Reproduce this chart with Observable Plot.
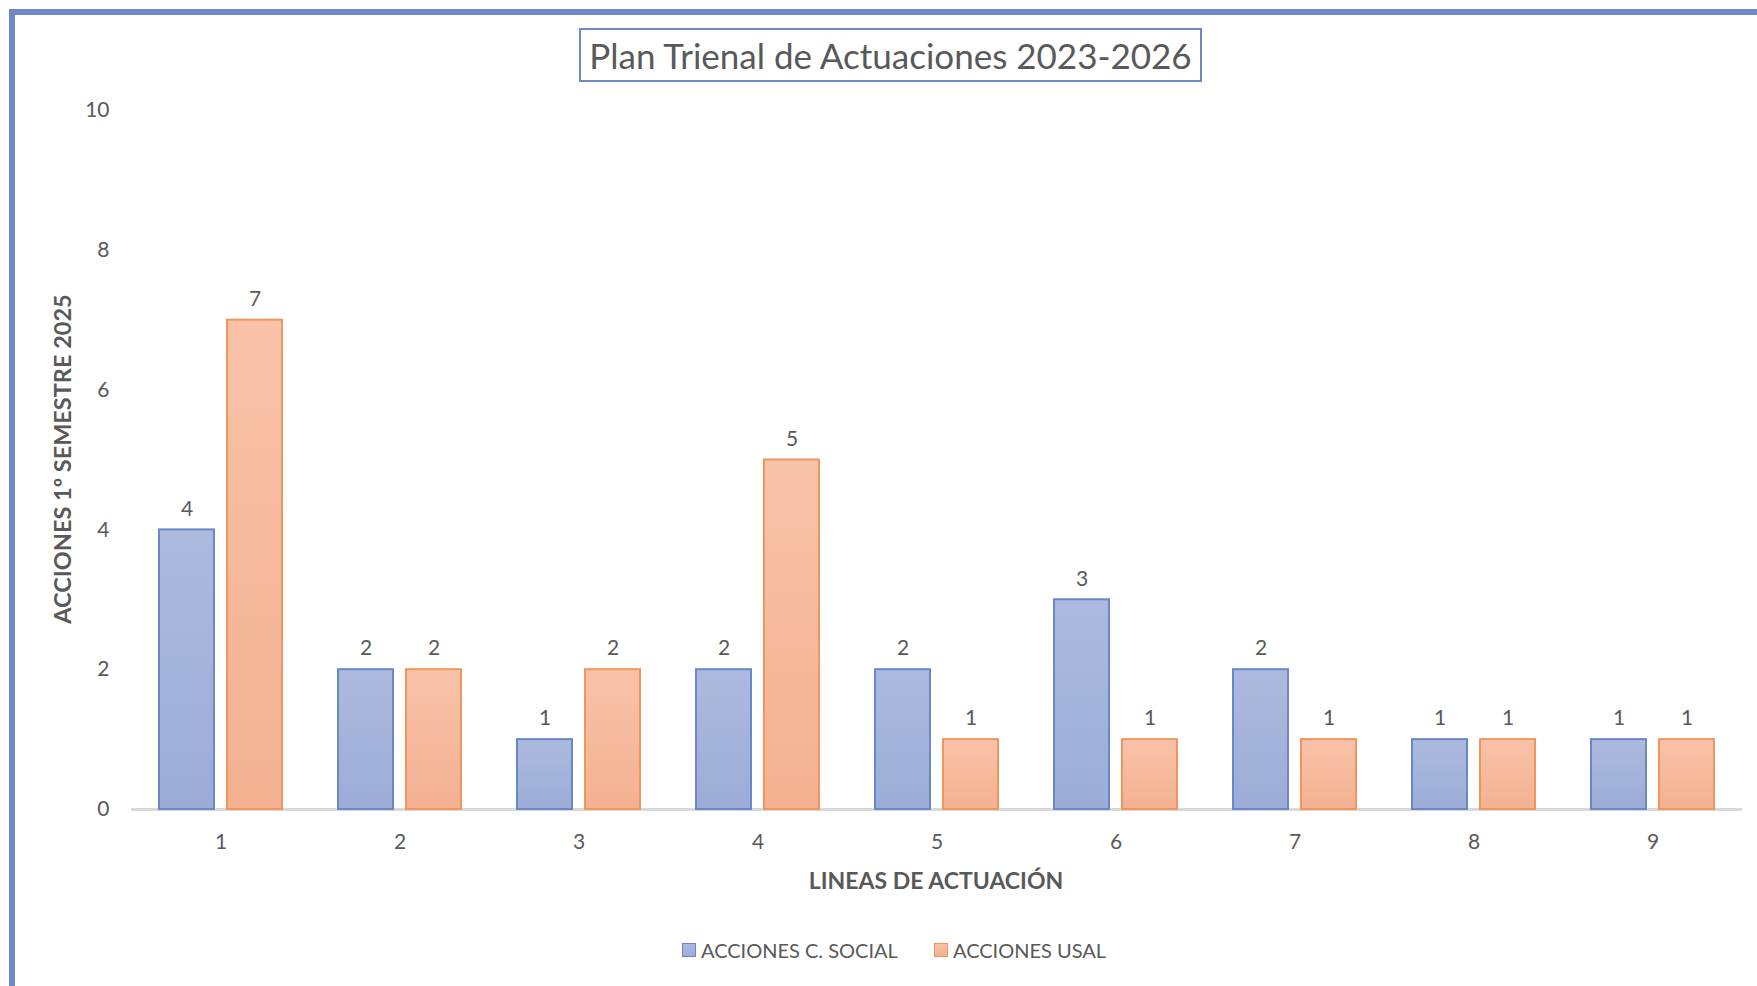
<!DOCTYPE html>
<html><head><meta charset="utf-8">
<script src="https://cdn.jsdelivr.net/npm/d3@7"></script>
<script src="https://cdn.jsdelivr.net/npm/@observablehq/plot@0.6"></script>
<style>
html,body{margin:0;padding:0;background:#fff;}
#wrap{position:relative;width:1757px;height:986px;overflow:hidden;background:#fff;font-family:Lato,"Open Sans",sans-serif;color:#595959;}
#frame{position:absolute;left:9px;top:9px;width:1900px;height:1200px;border:6px solid #6e89c6;box-sizing:border-box;}
#chart{position:absolute;left:0;top:0;}
#title{position:absolute;left:579px;top:28px;width:623px;height:54px;box-sizing:border-box;border:2px solid #6e89c6;background:#fff;
  display:flex;align-items:center;justify-content:center;font-size:35px;color:#595959;white-space:nowrap;}
#ytitle{position:absolute;left:62px;top:459px;transform:translate(-50%,-50%) rotate(-90deg);font-weight:bold;font-size:23.5px;white-space:nowrap;color:#595959;}
#xtitle{position:absolute;left:936px;top:880px;transform:translate(-50%,-50%);font-weight:bold;font-size:23px;white-space:nowrap;color:#595959;}
#legend{position:absolute;left:0;top:950px;width:100%;height:0;}
.item{position:absolute;display:flex;align-items:center;transform:translateY(-50%);font-size:20px;white-space:nowrap;color:#595959;}
.sw{width:12px;height:12px;margin-right:5px;border:1.5px solid;}
</style></head>
<body>
<div id="wrap">
  <div id="chart"></div>
  <div id="frame"></div>
  <div id="title"></div>
  <div id="ytitle"></div>
  <div id="xtitle"></div>
  <div id="legend"></div>
</div>
<script>
const categories = ["1","2","3","4","5","6","7","8","9"];
const seriesNames = ["ACCIONES C. SOCIAL", "ACCIONES USAL"];
const social = [4, 2, 1, 2, 2, 3, 2, 1, 1];
const usal = [7, 2, 2, 5, 1, 1, 1, 1, 1];
const yTicks = [0, 2, 4, 6, 8, 10];
const titleText = "Plan Trienal de Actuaciones 2023-2026";
const yTitle = "ACCIONES 1º SEMESTRE 2025";
const xTitle = "LINEAS DE ACTUACIÓN";

const seriesStyle = [
  {fill: "url(#gBlue)", stroke: "#6a87c7", top: "#adbadf", bottom: "#9cacd7", id: "gBlue"},
  {fill: "url(#gOrange)", stroke: "#f0965c", top: "#f8c2a9", bottom: "#f4b192", id: "gOrange"}
];

const data = categories.flatMap((c, i) => [
  {cat: c, series: seriesNames[0], value: social[i]},
  {cat: c, series: seriesNames[1], value: usal[i]}
]);

const font = "Lato, 'Open Sans', sans-serif";

const chart = Plot.plot({
  width: 1757, height: 986,
  marginLeft: 131, marginRight: 15, marginTop: 110, marginBottom: 177,
  style: {fontFamily: font, fontSize: "21px", color: "#595959", background: "transparent", overflow: "visible"},
  fx: {domain: categories, padding: 0, label: null, tickSize: 0, tickPadding: 25},
  x: {domain: seriesNames, paddingInner: 0.191, paddingOuter: 0.41, axis: null},
  y: {domain: [0, 10], ticks: yTicks, tickSize: 0, tickPadding: 22, label: null, tickFormat: d => String(d)},
  marks: [
    Plot.ruleY([0], {stroke: "#d9d9d9", strokeWidth: 3}),
    ...seriesNames.map((s, k) => Plot.barY(data.filter(d => d.series === s), {
      fx: "cat", x: "series", y: "value",
      fill: seriesStyle[k].fill, stroke: seriesStyle[k].stroke, strokeWidth: 2
    })),
    Plot.text(data, {fx: "cat", x: "series", y: "value", text: d => String(d.value), dy: -21, fontSize: 21, fill: "#595959"})
  ]
});

const svg = d3.select(chart);
const defs = svg.insert("defs", ":first-child");
seriesStyle.forEach(s => {
  const g = defs.append("linearGradient").attr("id", s.id).attr("x1", 0).attr("y1", 0).attr("x2", 0).attr("y2", 1);
  g.append("stop").attr("offset", "0%").attr("stop-color", s.top);
  g.append("stop").attr("offset", "100%").attr("stop-color", s.bottom);
});
document.getElementById("chart").appendChild(chart);

document.getElementById("title").textContent = titleText;
document.getElementById("ytitle").textContent = yTitle;
document.getElementById("xtitle").textContent = xTitle;

const legend = document.getElementById("legend");
const legendX = [682, 934];
seriesNames.forEach((s, k) => {
  const it = document.createElement("div");
  it.className = "item";
  it.style.left = legendX[k] + "px";
  const sw = document.createElement("span");
  sw.className = "sw";
  sw.style.borderColor = seriesStyle[k].stroke;
  sw.style.background = `linear-gradient(${seriesStyle[k].top}, ${seriesStyle[k].bottom})`;
  it.appendChild(sw);
  const t = document.createElement("span");
  t.textContent = s;
  it.appendChild(t);
  legend.appendChild(it);
});
</script>
</body></html>
